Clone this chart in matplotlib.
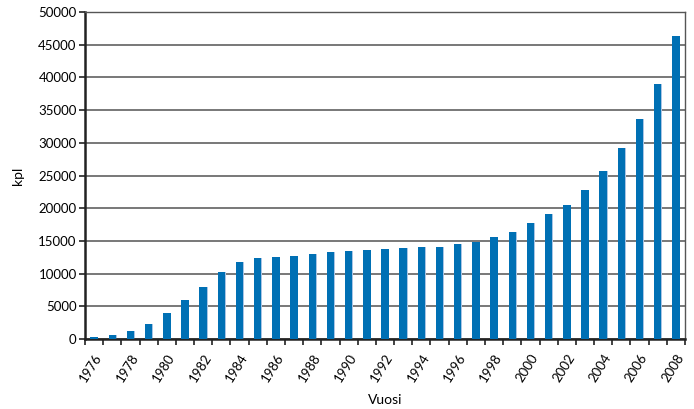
import matplotlib
matplotlib.use("Agg")
import matplotlib.pyplot as plt
import numpy as np

plt.rcParams['font.family'] = ['Lato', 'DejaVu Sans']

# yearly counts
years = list(range(1976, 2009))
counts = [250, 560, 1270, 2300, 3970, 5960, 7900, 10200, 11820, 12330,
          12490, 12690, 13050, 13250, 13430, 13600, 13760, 13900, 14100, 14100,
          14470, 14880, 15550, 16410, 17690, 19060, 20490, 22780, 25640, 29200,
          33640, 38940, 46380]
y_ticks = list(range(0, 50001, 5000))

fig = plt.figure(figsize=(6.94, 4.09), dpi=100)
ax = fig.add_axes([0.1225, 0.171, 0.8645, 0.7997])

x = np.arange(len(years))
# thin light edge on the right side of each bar, like the original
ax.bar(x + 0.03, counts, width=0.42, color='#a9c4e4', zorder=2)
ax.bar(x, counts, width=0.41, color='#0070b4', zorder=3)

ax.set_xlim(-0.5, len(years) - 0.5)
ax.set_ylim(0, 50000)
ax.set_yticks(y_ticks)
ax.set_yticklabels([str(v) for v in y_ticks], fontsize=9.5)
ax.yaxis.grid(True, color='#6d6d6d', linewidth=1.3, zorder=0)
ax.tick_params(axis='y', length=4, width=1.2, color='#222222', pad=2)

# even years labelled, ticks on category boundaries
ax.set_xticks(x[::2])
ax.set_xticklabels([str(y) for y in years[::2]], rotation=58, ha='right',
                   rotation_mode='anchor', fontsize=9.5)
ax.set_xticks(np.arange(-0.5, len(years)), minor=True)
ax.tick_params(axis='x', which='major', length=0, pad=9)
ax.tick_params(axis='x', which='minor', length=4, width=1.2, color='#222222')

for side in ['left', 'bottom']:
    ax.spines[side].set_color('#222222')
    ax.spines[side].set_linewidth(1.8)
for side in ['top', 'right']:
    ax.spines[side].set_color('#555555')
    ax.spines[side].set_linewidth(1.0)

ax.set_ylabel('kpl', fontsize=10, labelpad=10)
ax.set_xlabel('Vuosi', fontsize=10, labelpad=7)

fig.savefig('out.png', dpi=100)
